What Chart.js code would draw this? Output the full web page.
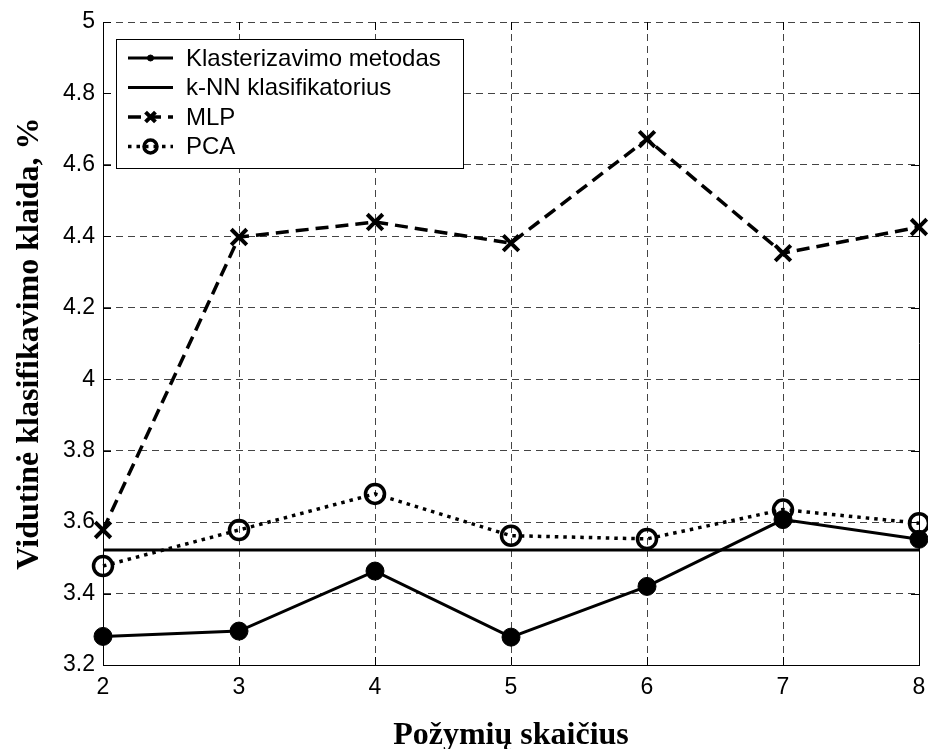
<!DOCTYPE html>
<html>
<head>
<meta charset="utf-8">
<script src="https://cdn.jsdelivr.net/npm/chart.js@4.4.0/dist/chart.umd.min.js"></script>
<style>
  body { margin: 0; background: #fff; }
  canvas { display: block; }
</style>
</head>
<body>
<canvas id="errorChart" width="928" height="749"></canvas>
<script>
// požymių skaičius ir vidutinės klaidos (%)
const features = [2, 3, 4, 5, 6, 7, 8];
const clusteringErr = [3.28, 3.295, 3.463, 3.278, 3.42, 3.607, 3.552];
const knnErr = [3.522, 3.522, 3.522, 3.522, 3.522, 3.522, 3.522];
const mlpErr = [3.578, 4.398, 4.44, 4.381, 4.672, 4.353, 4.426];
const pcaErr = [3.477, 3.578, 3.679, 3.562, 3.553, 3.635, 3.597];
const seriesNames = ["Klasterizavimo metodas", "k-NN klasifikatorius", "MLP", "PCA"];

const toPoints = (values) => values.map((v, i) => ({ x: features[i], y: v }));

const tickFont = { family: "'Liberation Sans', Arial, sans-serif", size: 23 };
const titleFont = { family: "'Liberation Serif', 'Times New Roman', serif", size: 32, weight: "bold" };

// MATLAB stiliaus rėmas: dešinė linija ir vidinės žymos
const frame = {
  id: "frame",
  afterDraw(chart) {
    const { ctx, chartArea: a, scales } = chart;
    ctx.save();
    ctx.strokeStyle = "#000";
    ctx.lineWidth = 1;
    ctx.beginPath();
    ctx.moveTo(a.right + 0.5, a.top);
    ctx.lineTo(a.right + 0.5, a.bottom);
    scales.x.ticks.forEach((t) => {
      const px = Math.round(scales.x.getPixelForValue(t.value)) + 0.5;
      ctx.moveTo(px, a.bottom);
      ctx.lineTo(px, a.bottom - 8);
      ctx.moveTo(px, a.top);
      ctx.lineTo(px, a.top + 8);
    });
    scales.y.ticks.forEach((t) => {
      const py = Math.round(scales.y.getPixelForValue(t.value)) + 0.5;
      ctx.moveTo(a.left, py);
      ctx.lineTo(a.left + 8, py);
      ctx.moveTo(a.right, py);
      ctx.lineTo(a.right - 8, py);
    });
    ctx.stroke();
    ctx.restore();
  }
};

// legenda su linijų pavyzdžiais
const legendMarkerRadius = [3, 0, 7, 6.5];
const legendBox = {
  id: "legendBox",
  afterDraw(chart) {
    const { ctx } = chart;
    const left = 116, top = 39, width = 347, height = 129;
    ctx.save();
    ctx.fillStyle = "#fff";
    ctx.fillRect(left, top, width, height);
    ctx.strokeStyle = "#000";
    ctx.lineWidth = 1;
    ctx.strokeRect(left + 0.5, top + 0.5, width, height);
    chart.data.datasets.forEach((ds, i) => {
      const y = top + 19 + i * 29.5;
      ctx.save();
      ctx.strokeStyle = ds.borderColor;
      ctx.lineWidth = ds.borderWidth;
      ctx.setLineDash(ds.borderDash || []);
      ctx.beginPath();
      ctx.moveTo(128, y);
      ctx.lineTo(173, y);
      ctx.stroke();
      ctx.restore();
      if (legendMarkerRadius[i] > 0) {
        ctx.save();
        ctx.strokeStyle = ds.pointBorderColor;
        ctx.fillStyle = ds.pointBackgroundColor;
        ctx.lineWidth = ds.pointBorderWidth;
        Chart.helpers.drawPoint(ctx, {
          pointStyle: ds.pointStyle,
          radius: legendMarkerRadius[i],
          rotation: 0,
          borderWidth: ds.pointBorderWidth
        }, 150.5, y);
        ctx.restore();
      }
      ctx.fillStyle = "#000";
      ctx.font = "24px 'Liberation Sans', Arial, sans-serif";
      ctx.textBaseline = "middle";
      ctx.fillText(ds.label, 186, y + 1);
    });
    ctx.restore();
  }
};

new Chart(document.getElementById("errorChart"), {
  type: "line",
  data: {
    datasets: [
      {
        label: seriesNames[0],
        data: toPoints(clusteringErr),
        borderColor: "#000",
        borderWidth: 3,
        pointStyle: "circle",
        pointRadius: 9,
        pointBackgroundColor: "#000",
        pointBorderColor: "#000",
        pointBorderWidth: 1
      },
      {
        label: seriesNames[1],
        data: toPoints(knnErr),
        borderColor: "#000",
        borderWidth: 3,
        pointRadius: 0
      },
      {
        label: seriesNames[2],
        data: toPoints(mlpErr),
        borderColor: "#000",
        borderWidth: 3.5,
        borderDash: [13, 7],
        pointStyle: "crossRot",
        pointRadius: 11,
        pointBackgroundColor: "#000",
        pointBorderColor: "#000",
        pointBorderWidth: 4
      },
      {
        label: seriesNames[3],
        data: toPoints(pcaErr),
        borderColor: "#000",
        borderWidth: 3.5,
        borderDash: [3.5, 5],
        pointStyle: "circle",
        pointRadius: 9.5,
        pointBackgroundColor: "rgba(0,0,0,0)",
        pointBorderColor: "#000",
        pointBorderWidth: 3.5
      }
    ]
  },
  options: {
    responsive: false,
    animation: false,
    clip: false,
    layout: { autoPadding: false, padding: { top: 22, right: 9, left: 0, bottom: 0 } },
    plugins: { legend: { display: false }, tooltip: { enabled: false } },
    scales: {
      x: {
        type: "linear",
        min: 2,
        max: 8,
        afterFit: (s) => { s.height = 84; },
        ticks: { stepSize: 1, color: "#000", font: tickFont, padding: 0 },
        grid: { color: "#444", lineWidth: 1, drawTicks: true, tickLength: 9, tickColor: "rgba(0,0,0,0)" },
        border: { color: "#000", width: 1, dash: [7, 5] },
        title: { display: true, text: "Požymių skaičius", color: "#000", font: titleFont, padding: { top: 0, bottom: -6 } }
      },
      y: {
        min: 3.2,
        max: 5,
        afterFit: (s) => { s.width = 103; },
        ticks: {
          stepSize: 0.2,
          color: "#000",
          font: tickFont,
          padding: 8,
          callback: (v) => String(Number(v.toFixed(1)))
        },
        grid: { color: "#444", lineWidth: 1, drawTicks: false },
        border: { color: "#000", width: 1, dash: [7, 5] },
        title: { display: true, text: "Vidutinė klasifikavimo klaida, %", color: "#000", font: titleFont, padding: { top: 11, bottom: 0 } }
      }
    }
  },
  plugins: [frame, legendBox]
});
</script>
</body>
</html>
